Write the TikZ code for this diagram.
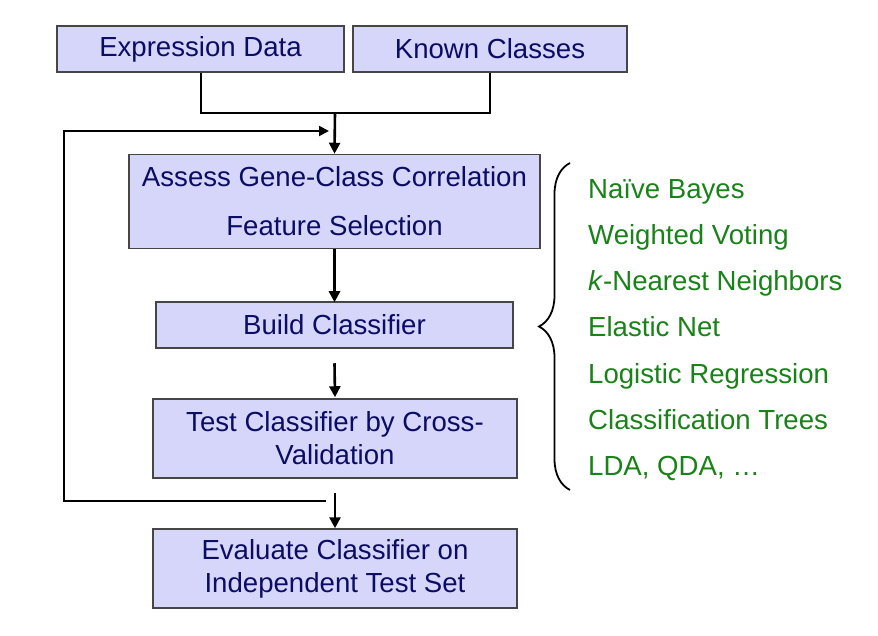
\documentclass[tikz,border=0pt]{standalone}
\usepackage{fontspec}
\setmainfont{Liberation Sans}
\usetikzlibrary{arrows.meta,decorations.pathreplacing}
\definecolor{boxfill}{RGB}{214,214,250}
\definecolor{boxline}{RGB}{70,70,70}
\definecolor{navy}{RGB}{12,12,100}
\definecolor{mygreen}{RGB}{25,130,25}
\tikzset{
  flowbox/.style={draw=boxline, line width=1.5pt, fill=boxfill, text=navy,
    inner sep=0pt, align=center, anchor=center,
    font=\fontsize{27.6}{33}\selectfont},
  link/.style={line width=2pt, black},
  arr/.style={line width=2.6pt, black, -{Triangle[width=11pt,length=11pt]}},
  looparr/.style={line width=2pt, black, -{Triangle[width=10pt,length=10pt]}},
}
\begin{document}
\begin{tikzpicture}[x=1pt,y=-1pt]
\useasboundingbox (0,0) rectangle (878,636);
\fill[white] (0,0) rectangle (878,636);

\node[flowbox, minimum width=287pt, minimum height=46pt] (expr) at (200.5,49) {Expression Data};
\node[flowbox, minimum width=274pt, minimum height=46pt] (known) at (490,49) {Known Classes};
\node[flowbox, minimum width=411pt, minimum height=94pt,
      font=\fontsize{27.6}{49}\selectfont] (assess) at (334.5,201.5)
      {Assess Gene-Class Correlation\\Feature Selection};
\node[flowbox, minimum width=357pt, minimum height=46pt] (build) at (334.5,325) {Build Classifier};
\node[flowbox, minimum width=364pt, minimum height=79pt] (test) at (335,438.5)
      {Test Classifier by Cross-\\Validation};
\node[flowbox, minimum width=364pt, minimum height=79pt] (eval) at (335,568.5)
      {Evaluate Classifier on\\Independent Test Set};

% merge of inputs
\coordinate (join) at (335,112.7);
\draw[link] (expr.south) |- (join) -| (known.south);
\draw[arr] (join) -- (assess.north);

% main flow
\draw[arr] (assess.south) -- ([yshift=-1pt]build.north);
\draw[arr] ([yshift=-14.5pt]build.south) -- ([yshift=1pt]test.north);
\draw[arr] ([yshift=-14pt]test.south) -- (eval.north);

% feedback loop
\coordinate (fbout) at (326,500.7);
\coordinate (fbcornerA) at (63.5,500.7);
\coordinate (fbcornerB) at (63.5,131);
\coordinate (fbin) at (329,131);
\draw[looparr] (fbout) -- (fbcornerA) -- (fbcornerB) -- (fbin);

% brace and method list
\coordinate (braceBot) at (570,490);
\coordinate (braceTop) at (570,163);
\draw[line width=1.8pt, decorate, decoration={brace, amplitude=31pt}] (braceBot) -- (braceTop);
\node[anchor=west, align=left, inner sep=0pt, text=mygreen,
      font=\fontsize{27.6}{46.2}\selectfont] (methods) at (588,330)
  {Naïve Bayes\\Weighted Voting\\\textit{k}-Nearest Neighbors\\Elastic Net\\Logistic Regression\\Classification Trees\\LDA, QDA, …};
\end{tikzpicture}
\end{document}
